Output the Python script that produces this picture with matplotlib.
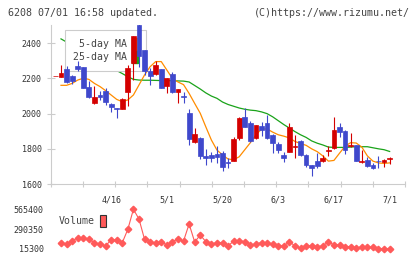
import numpy as np
import matplotlib.pyplot as plt
from matplotlib.patches import Patch

# --- data (index -1 .. 59, trading days) ---
day_index = list(range(-1, 60))
opens = [2212, 2210, 2252, 2214, 2273, 2264, 2154, 2059, 2106, 2131, 2055,
         2032, 2028, 2125, 2289, 2504, 2361, 2243, 2225, 2253, 2160,
         2226, 2125, 2100, 2002, 1841, 1863, 1759, 1763, 1770, 1778,
         1725, 1733, 1860, 1983, 1946, 1860, 1930, 1949, 1878, 1827,
         1765, 1784, 1810, 1846, 1765, 1706, 1733, 1731, 1786, 1807,
         1926, 1901, 1818, 1822, 1725, 1736, 1708, 1731, 1727, 1744]
closes = [2216, 2229, 2182, 2186, 2256, 2148, 2093, 2097, 2093, 2068, 2040,
          2025, 2083, 2258, 2441, 2330, 2244, 2215, 2276, 2147, 2203,
          2125, 2140, 2092, 1854, 1882, 1759, 1746, 1748, 1752, 1698,
          1720, 1856, 1973, 1926, 1846, 1935, 1907, 1863, 1831, 1793,
          1750, 1925, 1815, 1765, 1708, 1689, 1702, 1750, 1795, 1907,
          1897, 1793, 1822, 1733, 1729, 1704, 1689, 1729, 1736, 1748]
highs = [2216, 2277, 2270, 2218, 2302, 2266, 2188, 2157, 2130, 2144, 2058,
         2034, 2090, 2277, 2441, 2520, 2362, 2257, 2300, 2256, 2205,
         2238, 2142, 2125, 2026, 1920, 1869, 1800, 1780, 1816, 1790,
         1746, 1869, 1980, 2030, 1960, 1937, 1954, 1992, 1882, 1840,
         1784, 1944, 1878, 1848, 1768, 1706, 1778, 1765, 1816, 1983,
         1944, 1905, 1888, 1824, 1793, 1755, 1721, 1759, 1740, 1752]
lows = [2212, 2208, 2176, 2169, 2244, 2144, 2090, 2057, 2078, 2050, 2012,
        1977, 2025, 2045, 2190, 2267, 2219, 2163, 2222, 2143, 2120,
        2120, 2058, 2062, 1822, 1832, 1740, 1708, 1725, 1722, 1676,
        1693, 1730, 1850, 1922, 1840, 1858, 1873, 1855, 1778, 1778,
        1727, 1782, 1750, 1762, 1699, 1648, 1690, 1727, 1759, 1800,
        1869, 1769, 1812, 1731, 1717, 1699, 1686, 1689, 1695, 1714]

ma5 = [np.nan, 2161, 2161, 2172, 2191, 2201, 2195, 2172, 2154, 2131, 2106,
       2081, 2068, 2078, 2106, 2163, 2220, 2267, 2296, 2296, 2248,
       2200, 2180, 2165, 2115, 2058, 2002, 1925, 1850, 1793, 1765,
       1742, 1738, 1755, 1795, 1835, 1880, 1912, 1913, 1895, 1880,
       1872, 1862, 1842, 1830, 1820, 1800, 1784, 1760, 1730, 1734,
       1775, 1815, 1835, 1833, 1810, 1760, 1730, 1720, 1717, 1720]
ma25 = [np.nan, 2425, 2407, 2389, 2371, 2353, 2335, 2317, 2299, 2281, 2263,
        2245, 2228, 2210, 2195, 2191, 2190, 2190, 2189, 2188, 2188,
        2187, 2186, 2185, 2180, 2160, 2140, 2118, 2100, 2087, 2066,
        2052, 2042, 2032, 2025, 2020, 2017, 2010, 2000, 1982, 1960,
        1938, 1918, 1898, 1880, 1865, 1845, 1832, 1822, 1810, 1808,
        1808, 1808, 1810, 1812, 1812, 1812, 1806, 1800, 1795, 1785]
volume = [np.nan, 103000, 85000, 126000, 172000, 172000, 150000, 103000, 80000, 60000, 140000,
          140000, 103000, 288000, 565400, 431000, 149000, 117000, 94000, 117000, 71000,
          117000, 154000, 126000, 362000, 112000, 209000, 117000, 85000, 103000, 103000,
          57000, 126000, 126000, 117000, 71000, 85000, 103000, 103000, 85000, 57000,
          57000, 117000, 57000, 25000, 57000, 57000, 48000, 57000, 117000, 71000,
          71000, 48000, 48000, 25000, 48000, 38000, 38000, 20000, 17000, 15300]

tick_days = [9, 19, 29, 39, 49, 59]
tick_labels = ['4/16', '5/1', '5/20', '6/3', '6/17', '7/1']
price_ticks = [1600, 1800, 2000, 2200, 2400]
vol_ticks = [15300, 290350, 565400]

UP = '#d40000'
DOWN = '#3f48cc'
GRID = '#cccccc'
TXT = '#333333'
MONO = 'DejaVu Sans Mono'

plt.rcParams['font.family'] = MONO

fig = plt.figure(figsize=(4.2, 2.59), dpi=100)
ax = fig.add_axes([50.7 / 420, 1 - 184 / 259, 354.3 / 420, 159 / 259])
axv = fig.add_axes([50.7 / 420, 1 - 249 / 259, 354.3 / 420, 39.7 / 259])

x = np.array(day_index)
o = np.array(opens, float)
c = np.array(closes, float)
colors = [UP if cc >= oo else DOWN for oo, cc in zip(o, c)]

# MA lines under the legend, candles on top
ax.plot(x, ma25, color='#1aa31a', lw=0.9, zorder=2)
ax.plot(x, ma5, color='#ff8c00', lw=0.9, zorder=2)
ax.vlines(x, lows, highs, colors=colors, lw=0.8, zorder=4)
ax.bar(x, np.abs(c - o), bottom=np.minimum(o, c), width=0.86, color=colors,
       edgecolor=colors, linewidth=0.5, zorder=5)

xmin = (50.7 - 61) / 5.57
xmax = (405 - 61) / 5.57
ax.set_xlim(xmin, xmax)
ax.set_ylim(1600, 2504)

for s in ['top', 'right']:
    ax.spines[s].set_visible(False)
for s in ['left', 'bottom']:
    ax.spines[s].set_color(GRID)
    ax.spines[s].set_linewidth(0.8)

ax.set_yticks(price_ticks)
ax.tick_params(axis='y', direction='inout', length=5.8, width=0.8, color=GRID,
               labelsize=6, labelcolor=TXT, pad=3.5)
ax.set_xticks(tick_days)
ax.set_xticklabels(tick_labels)
ax.set_xticks(np.linspace(xmin, xmax, 12), minor=True)
ax.tick_params(axis='x', which='major', length=0, labelsize=6, labelcolor=TXT, pad=8)
ax.tick_params(axis='x', which='minor', direction='inout', length=4.8, width=0.8, color=GRID)

leg = ax.legend(handles=[Patch(color='#ff8c00'), Patch(color='#1aa31a')],
                labels=['5-day MA', '25-day MA'], markerfirst=False,
                loc='upper left', bbox_to_anchor=((65 - 50.7) / 354.3, (184 - 30) / 159),
                borderaxespad=0, fontsize=7.1, fancybox=False, framealpha=1,
                edgecolor='#cccccc', handlelength=0.6, handleheight=1.6,
                handletextpad=0.55, labelspacing=0.02, borderpad=0.78)
leg.get_frame().set_linewidth(0.8)
leg.set_zorder(3)
for t in leg.get_texts():
    t.set_color('#444444')

# volume panel
axv.plot(x, volume, color='#ff5a5a', lw=0.8, marker='D', ms=3.3, clip_on=False)
axv.set_xlim(xmin, xmax)
axv.set_ylim(15300, 565400)
for s in axv.spines.values():
    s.set_visible(False)
axv.set_xticks([])
axv.set_yticks(vol_ticks)
axv.set_yticklabels([str(v) for v in vol_ticks])
axv.tick_params(axis='y', length=0, labelsize=6, labelcolor=TXT, pad=5)
vleg = axv.legend(handles=[Patch(facecolor='#ff5a5a', edgecolor='#333333', linewidth=0.8)],
                  labels=['Volume'], markerfirst=False, frameon=False,
                  loc='center left', bbox_to_anchor=((58.3 - 50.7) / 354.3, (249 - 221) / 39.7),
                  borderaxespad=0, borderpad=0, fontsize=7.1, handlelength=0.6,
                  handleheight=1.6, handletextpad=0.6)
for t in vleg.get_texts():
    t.set_color('#444444')

fig.text(8 / 420, 1 - 12.7 / 259, '6208 07/01 16:58 updated.', fontsize=7.2,
         color='#444444', va='center', ha='left')
fig.text(410 / 420, 1 - 12.7 / 259, '(C)https://www.rizumu.net/', fontsize=7.2,
         color='#444444', va='center', ha='right')

fig.savefig('out.png', dpi=100)
